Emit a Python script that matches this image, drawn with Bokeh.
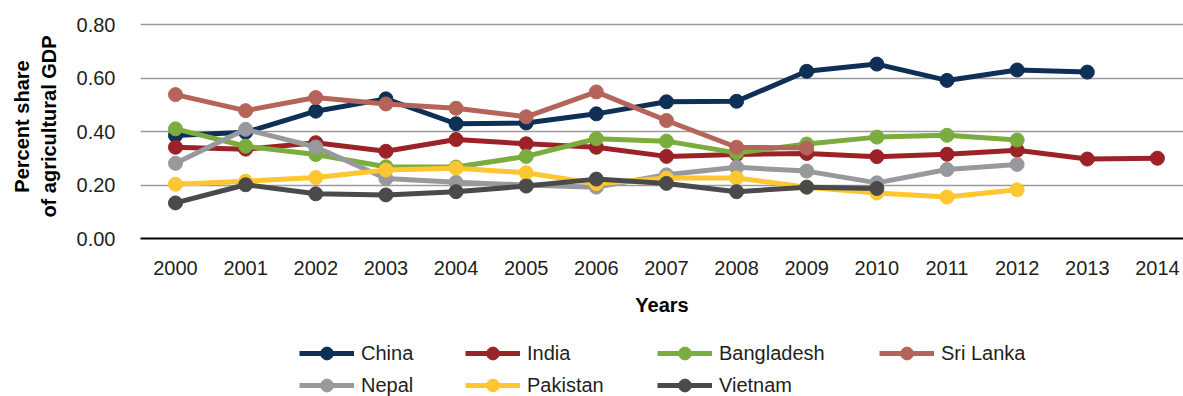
from bokeh.plotting import figure
from bokeh.layouts import column
from bokeh.models import (Range1d, FixedTicker, Legend, LegendItem,
                          NumeralTickFormatter, CustomJSTickFormatter)
from bokeh.embed import file_html
from bokeh.resources import INLINE

# Share of agricultural GDP, by country and year (None = no data)
years = [2000, 2001, 2002, 2003, 2004, 2005, 2006, 2007, 2008, 2009, 2010, 2011, 2012, 2013, 2014]

china      = [0.385, 0.397, 0.476, 0.522, 0.429, 0.432, 0.466, 0.511, 0.513, 0.625, 0.652, 0.591, 0.630, 0.622, None]
india      = [0.341, 0.334, 0.358, 0.326, 0.370, 0.354, 0.341, 0.307, 0.314, 0.318, 0.306, 0.315, 0.330, 0.297, 0.300]
bangladesh = [0.410, 0.345, 0.314, 0.268, 0.267, 0.307, 0.373, 0.364, 0.320, 0.353, 0.379, 0.386, 0.368, None, None]
sri_lanka  = [0.538, 0.478, 0.527, 0.503, 0.487, 0.455, 0.548, 0.441, 0.341, 0.338, None, None, None, None, None]
nepal      = [0.281, 0.408, 0.342, 0.224, 0.210, 0.200, 0.192, 0.238, 0.266, 0.252, 0.208, 0.258, 0.277, None, None]
pakistan   = [0.203, 0.214, 0.228, 0.256, 0.263, 0.246, 0.205, 0.226, 0.226, 0.192, 0.170, 0.155, 0.182, None, None]
vietnam    = [0.133, 0.201, 0.167, 0.163, 0.175, 0.196, 0.222, 0.206, 0.175, 0.192, 0.187, None, None, None, None]

series = [
    ("China", china, "#0e2f56"),
    ("India", india, "#9b2328"),
    ("Bangladesh", bangladesh, "#7bac3e"),
    ("Sri Lanka", sri_lanka, "#b5645a"),
    ("Nepal", nepal, "#98999c"),
    ("Pakistan", pakistan, "#fec630"),
    ("Vietnam", vietnam, "#4a4a4a"),
]

y_ticks = [0.0, 0.2, 0.4, 0.6, 0.8]

FONT = "Liberation Sans"
TEXT = "#231f20"

p = figure(width=1183, height=330, output_backend="svg", toolbar_location=None,
           x_range=Range1d(1999.501, 2014.372), y_range=Range1d(0, 0.8374),
           min_border_left=140, min_border_right=0, min_border_top=14,
           min_border_bottom=92)
p.outline_line_color = None
p.background_fill_color = "white"
p.border_fill_color = "white"

# axes
p.xaxis.ticker = FixedTicker(ticks=years)
p.xaxis.formatter = CustomJSTickFormatter(code="return String(Math.round(tick));")
p.yaxis.ticker = FixedTicker(ticks=y_ticks)
p.yaxis.formatter = NumeralTickFormatter(format="0.00")
for ax in (p.xaxis, p.yaxis):
    ax.major_tick_line_color = None
    ax.minor_tick_line_color = None
    ax.major_label_text_font = FONT
    ax.major_label_text_font_size = "20px"
    ax.major_label_text_color = TEXT
    ax.axis_label_text_font = FONT
    ax.axis_label_text_font_style = "bold"
    ax.axis_label_text_font_size = "20px"
    ax.axis_label_text_color = "black"
p.yaxis.axis_line_color = None
p.xaxis.axis_line_color = "black"
p.xaxis.axis_line_width = 2
p.xaxis.major_label_standoff = 16
p.yaxis.major_label_standoff = 19
p.xaxis.axis_label = "Years"
p.xaxis.axis_label_standoff = 16
p.yaxis.axis_label = "Percent share\nof agricultural GDP"
p.yaxis.axis_label_standoff = 14

p.xgrid.grid_line_color = None
p.ygrid.ticker = FixedTicker(ticks=y_ticks[1:])
p.ygrid.grid_line_color = "#9a9a9a"
p.ygrid.grid_line_width = 1.5

for name, vals, color in series:
    xs = [y for y, v in zip(years, vals) if v is not None]
    ys = [v for v in vals if v is not None]
    p.line(xs, ys, line_color=color, line_width=5)
    p.scatter(xs, ys, marker="circle", size=14, fill_color=color, line_color=color)

# legend strip under the chart: one two-row legend per column
lg = figure(width=1183, height=66, output_backend="svg", toolbar_location=None,
            x_range=Range1d(0, 1), y_range=Range1d(0, 1),
            min_border=0, min_border_left=0, min_border_right=0,
            min_border_top=0, min_border_bottom=0)
lg.outline_line_color = None
lg.axis.visible = False
lg.grid.visible = False

# swatch renderers sit outside the visible range; only their legend glyphs show
swatches = {}
for name, vals, color in series:
    ln = lg.line([-5, -4], [-5, -5], line_color=color, line_width=5)
    pt = lg.scatter([-5], [-5], marker="circle", size=14, fill_color=color, line_color=color)
    swatches[name] = [ln, pt]

# x offsets are measured from the plot frame's left edge (aligned with the chart)
columns = [
    (["China", "Nepal"], 159, -5),
    (["India", "Pakistan"], 325, -5),
    (["Bangladesh", "Vietnam"], 517, -5),
    (["Sri Lanka"], 739, 27),
]
for names, x0, y0 in columns:
    leg = Legend(items=[LegendItem(label=n, renderers=swatches[n]) for n in names],
                 orientation="vertical", location=(x0, y0),
                 glyph_width=55, glyph_height=32, label_standoff=7,
                 spacing=0, padding=0, margin=0, label_height=32,
                 label_text_font=FONT, label_text_font_size="20px",
                 label_text_color=TEXT, background_fill_alpha=0,
                 border_line_color=None)
    lg.add_layout(leg, "center")

open("out.html", "w").write(file_html(column(p, lg, spacing=0), INLINE))
